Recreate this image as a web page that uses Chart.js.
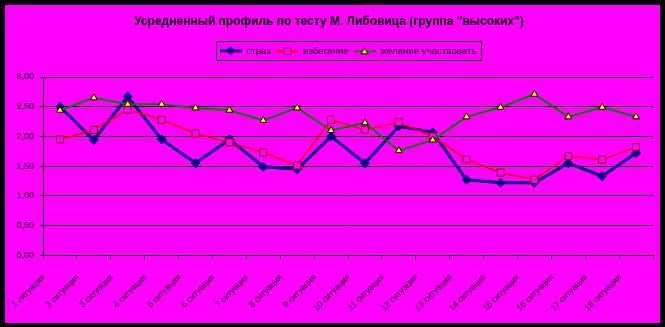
<!DOCTYPE html>
<html>
<head>
<meta charset="utf-8">
<script src="https://cdn.jsdelivr.net/npm/chart.js@4/dist/chart.umd.min.js"></script>
<style>
  body { margin: 0; background: #000; width: 665px; height: 327px; overflow: hidden; }
  #moldura { position: absolute; left: 5px; top: 5px; width: 655px; height: 318px; background: #ff00ff; }
</style>
</head>
<body>
<div id="moldura"><canvas id="grafico_1"></canvas></div>
<script>
const situacoes = ['1 ситуация', '2 ситуация', '3 ситуация', '4 ситуация', '5 ситуация', '6 ситуация',
  '7 ситуация', '8 ситуация', '9 ситуация', '10 ситуация', '11 ситуация', '12 ситуация',
  '13 ситуация', '14 ситуация', '15 ситуация', '16 ситуация', '17 ситуация', '18 ситуация']

const strakh = [2.50, 1.94, 2.67, 1.95, 1.55, 1.95, 1.49, 1.45, 2.00, 1.55, 2.17, 2.07, 1.27, 1.22, 1.22, 1.55, 1.33, 1.72]
const izbeganie = [1.95, 2.11, 2.45, 2.28, 2.05, 1.90, 1.73, 1.51, 2.28, 2.11, 2.24, 2.00, 1.61, 1.39, 1.27, 1.67, 1.61, 1.82]
const zhelanie = [2.44, 2.65, 2.54, 2.54, 2.48, 2.44, 2.27, 2.48, 2.10, 2.23, 1.76, 1.94, 2.33, 2.49, 2.71, 2.33, 2.49, 2.33]

const nomesSeries = ['страх', 'избегание', 'желание участвовать']
const ticksY = [0, 0.5, 1, 1.5, 2, 2.5, 3]

const fonte = 'Liberation Sans, Arial, sans-serif'

// amostra da legenda: linha com o marcador no meio
function amostra(tipo) {
  const c = document.createElement('canvas')
  c.width = 22
  c.height = 9
  const g = c.getContext('2d')
  if (tipo === 0) {
    g.fillStyle = '#000080'
    g.fillRect(0, 3, 22, 3)
    g.beginPath()
    g.moveTo(11, 0); g.lineTo(15.5, 4.5); g.lineTo(11, 9); g.lineTo(6.5, 4.5)
    g.closePath()
    g.fill()
  } else if (tipo === 1) {
    g.fillStyle = '#ff0000'
    g.fillRect(0, 4, 22, 2)
    g.fillStyle = '#ff00ff'
    g.fillRect(7, 1, 7, 7)
    g.strokeStyle = '#800000'
    g.strokeRect(7.5, 1.5, 7, 7)
  } else {
    g.fillStyle = '#008000'
    g.fillRect(0, 4, 22, 2)
    g.beginPath()
    g.moveTo(11, 1.5); g.lineTo(14.5, 7.5); g.lineTo(7.5, 7.5)
    g.closePath()
    g.fillStyle = '#ffff00'
    g.fill()
    g.strokeStyle = '#000'
    g.lineWidth = 1
    g.stroke()
  }
  return c
}

// espaco vazio entre a legenda e a area do grafico
const espacador = {
  id: 'espacador',
  beforeInit(chart) {
    Chart.layouts.addBox(chart, {
      position: 'top',
      weight: 500,
      fullSize: false,
      options: {},
      isHorizontal() { return true },
      update(w) { this.width = w; this.height = 11.3 },
      draw() {}
    })
  }
}

// moldura preta em volta da legenda
const caixaLegenda = {
  id: 'caixaLegenda',
  afterDraw(chart) {
    const hb = chart.legend.legendHitBoxes
    if (!hb || !hb.length) return
    const ctx = chart.ctx
    const esq = Math.round(hb[0].left - 4)
    const ult = hb[hb.length - 1]
    const dir = Math.round(ult.left + ult.width + 5)
    const cy = hb[0].top + hb[0].height / 2
    ctx.save()
    ctx.strokeStyle = '#000'
    ctx.lineWidth = 1
    ctx.strokeRect(esq + 0.5, Math.round(cy - 9.5) + 0.5, dir - esq, 19)
    ctx.restore()
  }
}

const ctxGrafico1 = document.getElementById('grafico_1')

const dataGrafico1 = {
  labels: situacoes,
  datasets: [{
    label: nomesSeries[0],
    data: strakh,
    borderColor: '#000080',
    borderWidth: 3,
    pointStyle: 'rectRot',
    pointRadius: 4.5,
    pointBackgroundColor: '#000080',
    pointBorderColor: '#000080',
    pointBorderWidth: 1,
    order: 2
  }, {
    label: nomesSeries[1],
    data: izbeganie,
    borderColor: '#ff0000',
    borderWidth: 1.5,
    pointStyle: 'rect',
    pointRadius: 5,
    pointBackgroundColor: '#ff00ff',
    pointBorderColor: '#800000',
    pointBorderWidth: 1,
    order: 1
  }, {
    label: nomesSeries[2],
    data: zhelanie,
    borderColor: '#008000',
    borderWidth: 2,
    pointStyle: 'triangle',
    pointRadius: 4,
    pointBackgroundColor: '#ffff00',
    pointBorderColor: '#000000',
    pointBorderWidth: 1,
    order: 0
  }]
}

const optionsGrafico1 = {
  responsive: true,
  maintainAspectRatio: false,
  animation: false,
  layout: { padding: { left: 0, right: 7, top: 0, bottom: 0 } },
  plugins: {
    tooltip: { enabled: false },
    title: {
      display: true,
      text: 'Усредненный профиль по тесту М. Либовица (группа "высоких")',
      color: '#000',
      font: { family: fonte, size: 12, weight: 'bold' },
      padding: { top: 9, bottom: 12.6 }
    },
    legend: {
      display: true,
      position: 'top',
      fullSize: false,
      labels: {
        color: '#000',
        font: { family: fonte, size: 9.7 },
        usePointStyle: true,
        pointStyleWidth: 22,
        padding: 5,
        generateLabels: chart => chart.data.datasets.map((ds, i) => ({
          text: ds.label,
          pointStyle: amostra(i),
          fillStyle: ds.borderColor,
          strokeStyle: ds.borderColor,
          lineWidth: 0,
          hidden: false,
          datasetIndex: i
        })),
        sort: (a, b) => a.datasetIndex - b.datasetIndex
      }
    }
  },
  scales: {
    x: {
      offset: true,
      afterFit: s => { s.height = 67.7 },
      grid: { display: true, drawOnChartArea: false, offset: true, color: '#000', tickLength: 4 },
      border: { color: '#000', width: 1 },
      ticks: {
        autoSkip: false,
        maxRotation: 45,
        minRotation: 45,
        labelOffset: -16,
        padding: 13,
        color: '#000',
        font: { family: fonte, size: 8.5 }
      }
    },
    y: {
      min: 0,
      max: 3,
      afterFit: s => { s.width = 38 },
      afterBuildTicks: s => { s.ticks = ticksY.map(v => ({ value: v })) },
      grid: { color: '#000', lineWidth: 1, tickLength: 3 },
      border: { color: '#000', width: 1 },
      ticks: {
        padding: 6,
        color: '#000',
        font: { family: fonte, size: 9 },
        callback: v => v.toFixed(2).replace('.', ',')
      }
    }
  }
}

new Chart(ctxGrafico1, {
  type: 'line',
  data: dataGrafico1,
  options: optionsGrafico1,
  plugins: [espacador, caixaLegenda]
})
</script>
</body>
</html>
